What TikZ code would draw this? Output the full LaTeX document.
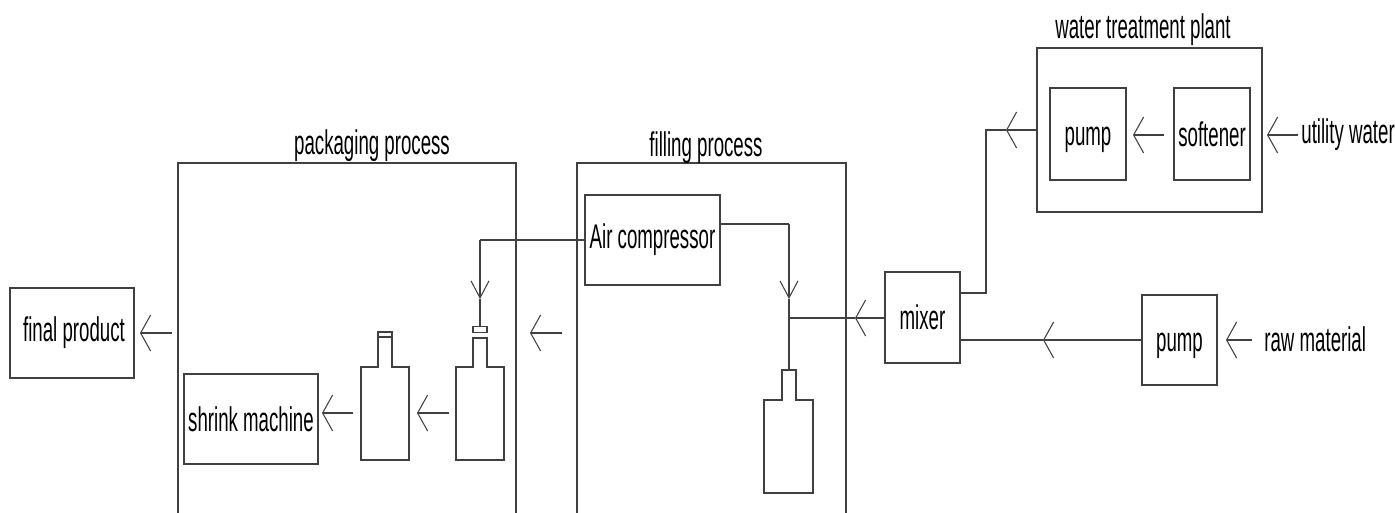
\documentclass[tikz,border=0pt]{standalone}
\usepackage{fontspec}
\setmainfont[FakeStretch=0.545]{Liberation Sans}
\usetikzlibrary{positioning,arrows.meta}
\tikzset{
  unit/.style={draw=black!75,line width=0.9pt,inner sep=0pt,fill=none},
  pipe/.style={draw=black!75,line width=0.9pt},
  hflow/.style={pipe,-{Straight Barb[length=0.2cm,width=0.72cm,line width=0.6pt]}},
  vflow/.style={pipe,-{Straight Barb[length=0.34cm,width=0.36cm,line width=0.6pt]}},
}
\begin{document}
\begin{tikzpicture}[x=0.02cm,y=-0.02cm,every node/.style={font=\fontsize{19.5}{22}\selectfont}]
 \useasboundingbox (0,0) rectangle (1395,513);
 % the two open process frames
 \draw[pipe] (178,513) |- (516,163) -- (516,513);
 \draw[pipe] (577,513) |- (846,163) -- (846,513);
 \node (packlabel) at (372,146) {packaging process};
 \node (filllabel) at (706,148) {filling process};
 \node (wtlabel) at (1143,30) {water treatment plant};
 % units
 \node[unit,minimum width=4.5cm,minimum height=3.28cm] (plant) at (1149.5,130) {};
 \node[unit,minimum width=1.52cm,minimum height=1.84cm,text height=0.6cm] (waterpump) at (1088,134) {pump};
 \node[unit,minimum width=1.52cm,minimum height=1.84cm] (softener) at (1212,134) {softener};
 \node[unit,minimum width=1.5cm,minimum height=1.82cm] (mixer) at (922.5,317.5) {mixer};
 \node[unit,minimum width=1.5cm,minimum height=1.8cm,text height=0.6cm] (rawpump) at (1179.5,340) {pump};
 \node[unit,minimum width=2.7cm,minimum height=1.8cm] (compressor) at (652.5,240) {Air compressor};
 \node[unit,minimum width=2.68cm,minimum height=1.8cm] (shrink) at (251,419) {shrink machine};
 \node[unit,minimum width=2.48cm,minimum height=1.8cm] (final) at (72,333) {\hspace{0.08cm}final product};
 \node[anchor=west,inner sep=0pt] (utility) at (1301,135) {utility water};
 \node[anchor=west,inner sep=0pt] (raw) at (1264,339) {raw material};
 % bottles
 \draw[pipe] (361,460) |- (378,367) |- (392,332) |- (409,367) |- cycle;
 \draw[pipe] (378,337) -- (392,337);
 \draw[pipe] (456,460) |- (473,367) |- (487,338) |- (504,367) |- cycle;
 \draw[pipe] (473,326.5) rectangle (487,332.5);
 \draw[pipe] (764,493) |- (782,400) |- (796,370) |- (813,400) |- cycle;
 % ends and bends of the connectors
 \coordinate (capb) at (480,326.5);
 \coordinate (capc) at (789,370);
 \coordinate (airbend) at (480,240);
 \coordinate (airdown) at (480,299);
 \coordinate (fillbend) at (789,224);
 \coordinate (filldown) at (789,299);
 \coordinate (join) at (789,318);
 \coordinate (mixtip) at (855,318);
 \coordinate (rawtip) at (1043,340);
 \coordinate (plantout) at (1006,130);
 \coordinate (plantbend) at (986,130);
 \coordinate (mixbend) at (986,293);
 \coordinate (outa) at (172,333);  \coordinate (ina) at (140,333);
 \coordinate (outb) at (353,413);  \coordinate (inb) at (322,413);
 \coordinate (outc) at (449,413);  \coordinate (inc) at (417,413);
 \coordinate (outd) at (562,333);  \coordinate (ind) at (530,333);
 \coordinate (oute) at (1252,340); \coordinate (ine) at (1226,340);
 \coordinate (outf) at (1298,135); \coordinate (inf) at (1267,135);
 \coordinate (outg) at (1164,135); \coordinate (ing) at (1133,135);
 % connectors
 \draw[hflow] (outa) -- (ina);
 \draw[hflow] (outb) -- (inb);
 \draw[hflow] (outc) -- (inc);
 \draw[hflow] (outd) -- (ind);
 \draw[hflow] (oute) -- (ine);
 \draw[hflow] (outf) -- (inf);
 \draw[hflow] (outg) -- (ing);
 \draw[pipe] (compressor.west |- airbend) -- (airbend);
 \draw[vflow] (airbend) -- (airdown);
 \draw[pipe] (airdown) -- (capb);
 \draw[pipe] (compressor.east |- fillbend) -- (fillbend);
 \draw[vflow] (fillbend) -- (filldown);
 \draw[pipe] (filldown) -- (capc);
 \draw[hflow] (mixer.west |- join) -- (mixtip);
 \draw[pipe] (mixtip) -- (join);
 \draw[hflow] (rawpump.west) -- (rawtip);
 \draw[pipe] (rawtip) -- (mixer.east |- rawtip);
 \draw[hflow] (plant.west) -- (plantout);
 \draw[pipe] (plantout) -- (plantbend) -- (mixbend) -- (mixer.east |- mixbend);
\end{tikzpicture}
\end{document}
